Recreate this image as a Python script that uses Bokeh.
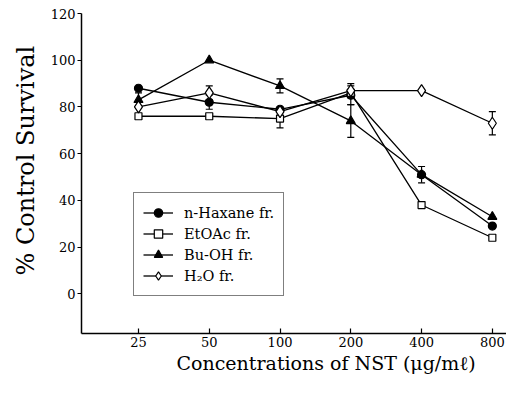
from bokeh.plotting import figure
from bokeh.models import (ColumnDataSource, Range1d, FixedTicker, Whisker, TeeHead,
                          Legend, LegendItem, Title, NumeralTickFormatter)
from bokeh.embed import file_html
from bokeh.resources import INLINE

conc = [25, 50, 100, 200, 400, 800]
tick_labels = ["25", "50", "100", "200", "400", "800"]
hexane = [88, 82, 79, 85, 51, 29]
hexane_err = [0, 3, 0, 4, 3.5, 0]
etoac = [76, 76, 75, 86, 38, 24]
etoac_err = [0, 0, 4, 0, 0, 0]
buoh = [83, 100, 89, 74, 51, 33]
buoh_err = [3, 0, 3, 7, 0, 0]
h2o = [80, 86, 78, 87, 87, 73]
h2o_err = [0, 3, 0, 3, 0, 5]
y_ticks = [0, 20, 40, 60, 80, 100, 120]

SERIF = "DejaVu Serif"

p = figure(width=506, height=384, output_backend="svg", toolbar_location=None,
           x_axis_type="log",
           x_range=Range1d(25 * 2 ** -0.805, 25 * 2 ** 5.2),
           y_range=Range1d(-17, 120),
           min_border_left=81, min_border_right=0, min_border_top=13, min_border_bottom=51)
p.outline_line_color = None
p.grid.visible = False
p.background_fill_color = "white"

series = [
    ("n-Haxane fr.", hexane, hexane_err, "circle", "black", 8),
    ("EtOAc fr.", etoac, etoac_err, "square", "white", 7),
    ("Bu-OH fr.", buoh, buoh_err, "triangle", "black", 9),
    ("H\u2082O fr.", h2o, h2o_err, "diamond", "white", 12),
]

items = []
for name, vals, errs, marker, fill, size in series:
    src = ColumnDataSource(dict(x=conc, y=vals))
    ln = p.line("x", "y", source=src, line_color="black", line_width=1.3)
    ex = [c for c, e in zip(conc, errs) if e > 0]
    up = [v + e for v, e in zip(vals, errs) if e > 0]
    lo = [v - e for v, e in zip(vals, errs) if e > 0]
    esrc = ColumnDataSource(dict(x=ex, upper=up, lower=lo))
    w = Whisker(source=esrc, base="x", upper="upper", lower="lower", dimension="height",
                line_color="black", line_width=1.2,
                upper_head=TeeHead(size=7, line_color="black", line_width=1.2),
                lower_head=TeeHead(size=7, line_color="black", line_width=1.2))
    p.add_layout(w)
    sc = p.scatter("x", "y", source=src, marker=marker, size=size,
                   fill_color=fill, line_color="black", line_width=1.2)
    items.append(LegendItem(label=name, renderers=[ln, sc]))

legend = Legend(items=items, location=(52, 37), orientation="vertical",
                label_text_font=SERIF, label_text_font_size="14.5px",
                label_text_color="black", label_height=21, glyph_height=21,
                glyph_width=30, label_standoff=11, spacing=0, padding=9, margin=0,
                border_line_color="black", border_line_width=1.2,
                background_fill_alpha=1.0)
p.add_layout(legend, "center")

p.xaxis.ticker = FixedTicker(ticks=conc)
p.xaxis.major_label_overrides = {c: l for c, l in zip(conc, tick_labels)}
p.xaxis.formatter = NumeralTickFormatter(format="0")
p.xaxis.major_tick_in = 5
p.xaxis.major_tick_out = 0
p.xaxis.minor_tick_line_color = None
p.yaxis.ticker = FixedTicker(ticks=y_ticks)
p.yaxis.major_tick_in = 0
p.yaxis.major_tick_out = 4
p.yaxis.minor_tick_line_color = None
for ax in (p.xaxis, p.yaxis):
    ax.axis_line_color = "black"
    ax.axis_line_width = 1.5
    ax.major_tick_line_color = "black"
    ax.major_tick_line_width = 1.2
    ax.major_label_text_font = SERIF
    ax.major_label_text_font_size = "13px"
    ax.major_label_text_color = "black"
p.xaxis.major_label_standoff = 3
p.yaxis.major_label_standoff = 2

yt = Title(text="% Control Survival", align="left", offset=58,
           text_font=SERIF, text_font_size="24px", text_font_style="normal",
           text_color="black", standoff=16)
p.add_layout(yt, "left")

xt = Title(text="Concentrations of NST (\u03bcg/m\u2113)", align="left", offset=95,
           text_font=SERIF, text_font_size="19px", text_font_style="normal",
           text_color="black", standoff=0)
p.add_layout(xt, "below")

open("out.html", "w").write(file_html(p, INLINE))
